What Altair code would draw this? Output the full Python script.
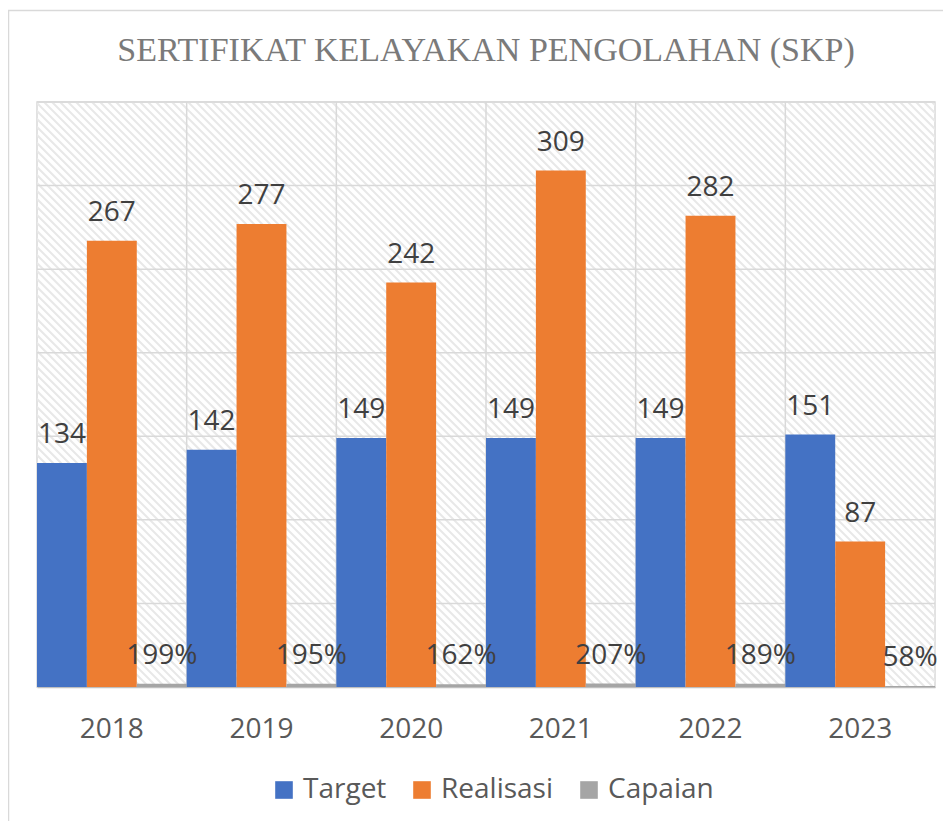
import altair as alt
import pandas as pd
import numpy as np

years = ["2018", "2019", "2020", "2021", "2022", "2023"]
target = [134, 142, 149, 149, 149, 151]
realisasi = [267, 277, 242, 309, 282, 87]
capaian = [1.99, 1.95, 1.62, 2.07, 1.89, 0.58]
series = ["Target", "Realisasi", "Capaian"]
colors = ["#4472C4", "#ED7D31", "#A5A5A5"]
grid_values = [50, 100, 150, 200, 250, 300, 350]

W, H = 898, 585

rows = []
for i, y in enumerate(years):
    rows.append({"year": y, "series": "Target", "value": target[i], "label": str(target[i])})
    rows.append({"year": y, "series": "Realisasi", "value": realisasi[i], "label": str(realisasi[i])})
    rows.append({"year": y, "series": "Capaian", "value": capaian[i], "label": f"{round(capaian[i]*100)}%"})
df = pd.DataFrame(rows)

# decorative hatch background (diagonal stripes)
step = 8
cs = np.arange(-H, W + step, step)
hatch_df = pd.DataFrame({"x1": cs, "y1": 0, "x2": cs + H, "y2": H})

hatch = alt.Chart(hatch_df).mark_rule(color="#e8e8e8", strokeWidth=2, clip=True).encode(
    x=alt.X("x1:Q", scale=None, axis=None),
    y=alt.Y("y1:Q", scale=None, axis=None),
    x2="x2:Q",
    y2="y2:Q",
)

yscale = alt.Scale(domain=[0, 350], nice=False)
xscale = alt.Scale(domain=years, paddingInner=0, paddingOuter=0)

hgrid = alt.Chart(pd.DataFrame({"v": grid_values})).mark_rule(color="#d9d9d9", strokeWidth=1.5).encode(
    y=alt.Y("v:Q", scale=yscale, axis=None)
)
vgrid = alt.Chart(pd.DataFrame({"year": years[1:]})).mark_rule(color="#d9d9d9", strokeWidth=1.5).encode(
    x=alt.X("year:N", scale=xscale, bandPosition=0, axis=None)
)

xaxis = alt.Axis(labelAngle=0, ticks=False, domain=True, domainColor="#bfbfbf",
                 domainWidth=1.5, grid=False, labelFont="Open Sans", labelFontSize=28,
                 labelColor="#595959", labelPadding=28)
xenc = alt.X("year:N", scale=xscale, sort=years, title=None, axis=xaxis)
xoff = alt.XOffset("series:N", sort=series, scale=alt.Scale(domain=series, paddingInner=0, paddingOuter=0))
yenc = alt.Y("value:Q", scale=yscale, axis=None)

bars = alt.Chart(df).mark_bar().encode(
    x=xenc,
    xOffset=xoff,
    y=yenc,
    color=alt.Color("series:N", sort=series,
                    scale=alt.Scale(domain=series, range=colors),
                    legend=alt.Legend(title=None, orient="none", direction="horizontal",
                                      legendX=233, legendY=674, symbolType="square",
                                      symbolSize=310, symbolStrokeWidth=0,
                                      labelFont="Open Sans", labelFontSize=28,
                                      labelColor="#595959", labelOffset=5,
                                      columnPadding=21))
)

labels = alt.Chart(df).mark_text(baseline="bottom", dy=-14, font="Open Sans", fontSize=28, color="#404040").encode(
    x=xenc,
    xOffset=xoff,
    y=yenc,
    text="label:N"
)

main = alt.layer(bars, labels)

frame = alt.Chart(pd.DataFrame({"a": [0]})).mark_rect(fill=None, stroke="#d9d9d9", strokeWidth=1.5).encode(
    x=alt.value(-28.5), x2=alt.value(W + 40), y=alt.value(-91.5), y2=alt.value(H + 300)
)

chart = alt.layer(hatch, hgrid, vgrid, main, frame).resolve_scale(
    x="independent", y="independent"
).properties(
    width=W, height=H,
    title=alt.TitleParams("SERTIFIKAT KELAYAKAN PENGOLAHAN (SKP)", font="Liberation Serif",
                          fontSize=34, fontWeight="normal", color="#7a7a7a",
                          anchor="middle", frame="group", offset=-58),
    autosize=alt.AutoSizeParams(type="none"),
    padding={"left": 29, "top": 94, "right": 8, "bottom": 134},
).configure_view(stroke="#d9d9d9", strokeWidth=1.5)

chart.save("out.html", embed_options={"renderer": "svg", "actions": False})
